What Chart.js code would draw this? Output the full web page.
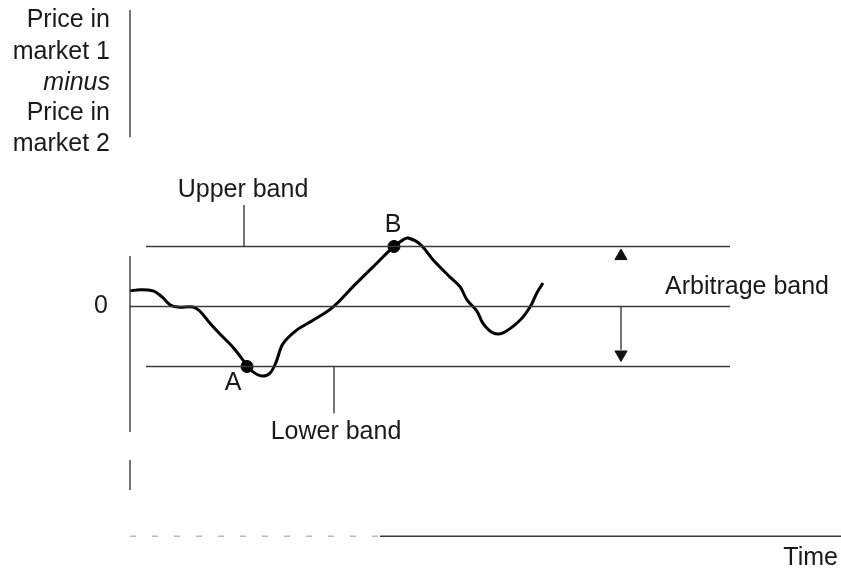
<!DOCTYPE html>
<html>
<head>
<meta charset="utf-8">
<script src="https://cdn.jsdelivr.net/npm/chart.js@4/dist/chart.umd.min.js"></script>
<style>
body { margin: 0; background: #fff; }
canvas { display: block; }
</style>
</head>
<body>
<canvas id="ItemC" width="841" height="576"></canvas>
<script>
// price spread over time (0 = parity, +1 upper band, -1 lower band)
var timeValues = [0, 1, 2.3, 3.2, 4, 4.8, 6.3, 7, 8, 9, 10.3, 11.7, 12.3, 13.2, 14, 14.6, 15.3, 16.7, 18.3, 20.3,
                  22.3, 24.3, 26.4, 27.3, 27.8, 29, 30.3, 32, 33, 33.7, 34.7, 35.3, 36.3, 37.3, 39, 40, 40.7, 41.3];
var spreadValues = [0.26, 0.28, 0.26, 0.16, 0.03, -0.01, -0.01, -0.08, -0.28, -0.46, -0.68, -0.98, -1.09, -1.16, -1.11, -0.93, -0.62, -0.39, -0.23, -0.01,
                    0.33, 0.66, 1.0, 1.11, 1.14, 1.04, 0.78, 0.49, 0.33, 0.11, -0.08, -0.28, -0.44, -0.44, -0.23, -0.01, 0.23, 0.39];

var upperBand = 1;
var lowerBand = -1;
var zeroLevel = 0;
var bandStart = 1.6;
var bandEnd = 60;

var pointLabels = ["A", "B"];
var pointTimes = [11.7, 26.4];
var pointValues = [-1, 1];

var yAxisTitle = ["Price in", "market 1", "minus", "Price in", "market 2"];
var xAxisTitle = "Time";
var zeroTickLabel = "0";

var viewport = document.getElementById("ItemC");
var ctx = viewport.getContext("2d");

var curve = timeValues.map(function(t, i) { return {x: t, y: spreadValues[i]}; });

function seg(x1, y1, x2, y2) {
    return [{x: x1, y: y1}, {x: x2, y: y2}];
}

var thin = {borderColor: "#3a3a3a", borderWidth: 1.4, pointRadius: 0, fill: false, tension: 0};

var datasets = [
    Object.assign({data: seg(bandStart, upperBand, bandEnd, upperBand)}, thin),
    Object.assign({data: seg(0, zeroLevel, bandEnd, zeroLevel)}, thin),
    Object.assign({data: seg(bandStart, lowerBand, bandEnd, lowerBand)}, thin),
    // y axis (broken in the original print)
    Object.assign({data: [{x: 0, y: 4.94}, {x: 0, y: 2.82}, {x: 0, y: null}, {x: 0, y: 0.84}, {x: 0, y: -2.09},
                          {x: 0, y: null}, {x: 0, y: -2.56}, {x: 0, y: -3.06}], spanGaps: false}, thin),
    Object.assign({data: seg(25, -3.83, 71.2, -3.83)}, thin),
    Object.assign({data: seg(0, -3.83, 25, -3.83), borderDash: [6, 16]}, thin, {borderColor: "#bbb"}),
    // leader lines for band labels
    Object.assign({data: seg(11.4, 1.69, 11.4, upperBand)}, thin),
    Object.assign({data: seg(20.4, lowerBand, 20.4, -1.78)}, thin),
    // arbitrage band arrow
    Object.assign({data: seg(49.1, zeroLevel, 49.1, -0.72)}, thin),
    {data: [{x: 49.1, y: 0.84}], pointStyle: "triangle", pointRadius: 7, pointBackgroundColor: "#111", pointBorderColor: "#111", showLine: false},
    {data: [{x: 49.1, y: -0.8}], pointStyle: "triangle", rotation: 180, pointRadius: 7, pointBackgroundColor: "#111", pointBorderColor: "#111", showLine: false},
    {
        data: curve,
        borderColor: "#000",
        borderWidth: 3,
        pointRadius: 0,
        fill: false,
        tension: 0.35
    },
    {
        data: pointTimes.map(function(t, i) { return {x: t, y: pointValues[i]}; }),
        showLine: false,
        pointRadius: 6,
        pointBackgroundColor: "#000",
        pointBorderColor: "#000"
    }
];

var textFont = "25px 'Liberation Sans', Arial, sans-serif";

var labelsPlugin = {
    id: "figureText",
    afterDatasetsDraw: function(chart) {
        var c = chart.ctx;
        var xs = chart.scales.x;
        var ys = chart.scales.y;
        function put(text, t, v, align, font) {
            c.font = font || textFont;
            c.textAlign = align;
            c.textBaseline = "middle";
            c.fillText(text, xs.getPixelForValue(t), ys.getPixelForValue(v));
        }
        c.save();
        c.fillStyle = "#1a1a1a";
        var rows = [4.78, 4.24, 3.73, 3.23, 2.71];
        yAxisTitle.forEach(function(line, i) {
            put(line, -2.0, rows[i], "right", i == 2 ? "italic " + textFont : textFont);
        });
        put(zeroTickLabel, -2.2, zeroLevel, "right");
        put("Upper band", 11.3, 1.94, "center");
        put("Lower band", 20.6, -2.09, "center");
        put(pointLabels[0], 10.3, -1.28, "center");
        put(pointLabels[1], 26.3, 1.36, "center");
        put("Arbitrage band", 53.5, 0.33, "left");
        put(xAxisTitle, 70.8, -4.19, "right");
        c.restore();
    }
};

var chartData = {
    type: "line",
    data: {datasets: datasets},
    options: {
        responsive: false,
        animation: false,
        layout: {padding: 0, autoPadding: false},
        plugins: {legend: {display: false}, tooltip: {enabled: false}},
        scales: {
            x: {type: "linear", min: -13, max: 71.1, display: false},
            y: {type: "linear", min: -4.492, max: 5.108, display: false}
        }
    },
    plugins: [labelsPlugin]
};

var myChart = new Chart(ctx, chartData);
</script>
</body>
</html>
